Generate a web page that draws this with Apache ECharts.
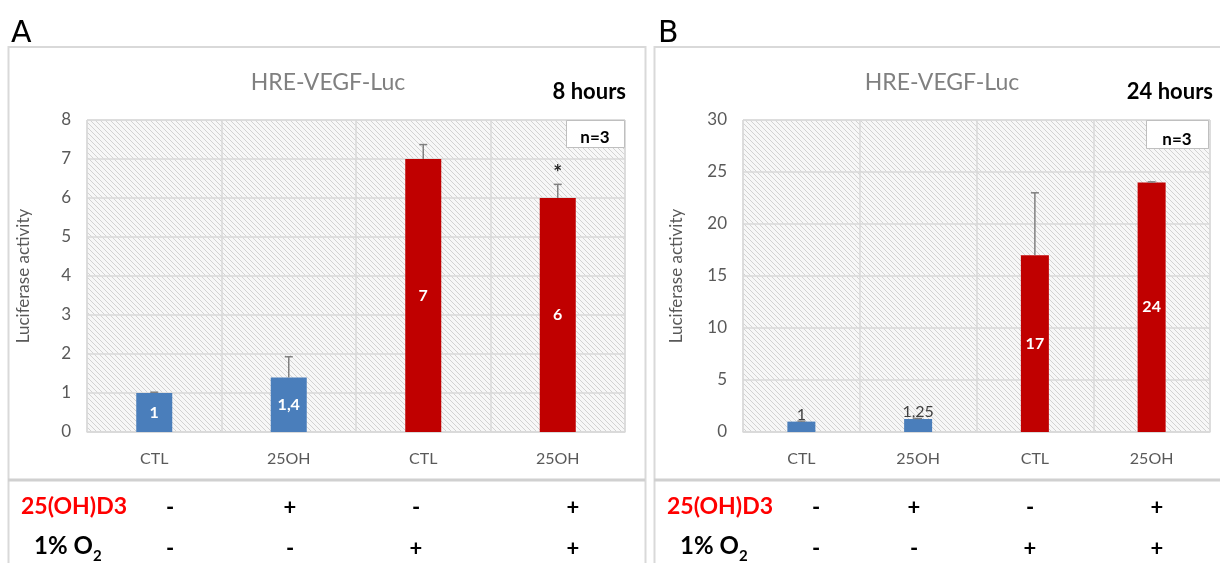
<!DOCTYPE html>
<html>
<head>
<meta charset="utf-8">
<script src="https://cdn.jsdelivr.net/npm/echarts@6/dist/echarts.min.js"></script>
<style>
html, body { margin: 0; padding: 0; background: #fff; }
#main { width: 1220px; height: 563px; }
</style>
</head>
<body>
<div id="main"></div>
<script>
// data
var categories = ['CTL', '25OH', 'CTL', '25OH'];
var valuesA = [1, 1.4, 7, 6];
var errorA = [0.02, 0.53, 0.37, 0.35];
var labelsA = ['1', '1,4', '7', '6'];
var starsA = ['', '', '', '*'];
var valuesB = [1, 1.25, 17, 24];
var errorB = [0.05, 0.05, 6, 0.05];
var labelsB = ['1', '1,25', '17', '24'];
var starsB = ['', '', '', ''];
var yTicksA = [0, 1, 2, 3, 4, 5, 6, 7, 8];
var yTicksB = [0, 5, 10, 15, 20, 25, 30];
var d3Row = ['-', '+', '-', '+'];
var o2Row = ['-', '-', '+', '+'];
var barColors = ['#4a7ebb', '#4a7ebb', '#c00000', '#c00000'];

var FONT = 'Lato, "Open Sans", sans-serif';
var GRAY = '#595959';

// diagonal hatch used as plot background
function hatch() {
  var c = document.createElement('canvas');
  c.width = 5; c.height = 5;
  var g = c.getContext('2d');
  g.fillStyle = '#f7f7f7';
  g.fillRect(0, 0, 5, 5);
  g.strokeStyle = '#d2d2d2';
  g.lineWidth = 1;
  g.beginPath();
  g.moveTo(-1, -1); g.lineTo(6, 6);
  g.moveTo(-6, -1); g.lineTo(1, 6);
  g.moveTo(4, -1); g.lineTo(11, 6);
  g.stroke();
  return c;
}
var pattern = { image: hatch(), repeat: 'repeat' };

function barData(vals, labels, small) {
  return vals.map(function (v, i) {
    var inside = !small[i];
    return {
      value: v,
      itemStyle: { color: barColors[i] },
      label: inside ? {
        show: true, position: 'inside', formatter: labels[i],
        color: '#fff', fontWeight: 'bold', fontSize: 16, fontFamily: FONT
      } : {
        show: true, position: 'top', distance: -1, formatter: labels[i],
        color: '#404040', fontSize: 16, fontFamily: FONT
      }
    };
  });
}

function errorSeries(idx, vals, errs, stars) {
  return {
    type: 'custom',
    xAxisIndex: idx, yAxisIndex: idx,
    data: vals.map(function (v, i) { return [i, v, v + errs[i]]; }),
    encode: { x: 0, y: [1, 2] },
    z: 5,
    renderItem: function (params, api) {
      var base = api.coord([api.value(0), api.value(1)]);
      var top = api.coord([api.value(0), api.value(2)]);
      var kids = [
        { type: 'line', shape: { x1: base[0], y1: base[1], x2: top[0], y2: top[1] },
          style: { stroke: '#808080', lineWidth: 1.5 } },
        { type: 'line', shape: { x1: top[0] - 4, y1: top[1], x2: top[0] + 4, y2: top[1] },
          style: { stroke: '#808080', lineWidth: 1.5 } }
      ];
      var s = stars[params.dataIndex];
      if (s) {
        kids.push({ type: 'text', style: { text: s, x: top[0], y: top[1] - 11,
          align: 'center', verticalAlign: 'middle', fill: '#222',
          font: 'bold 21px ' + FONT } });
      }
      return { type: 'group', children: kids };
    }
  };
}

function yAxis(idx, ticks, gap) {
  return {
    gridIndex: idx, type: 'value',
    min: ticks[0], max: ticks[ticks.length - 1], interval: ticks[1] - ticks[0],
    name: 'Luciferase activity', nameLocation: 'middle', nameRotate: 90, nameGap: gap,
    nameTextStyle: { color: GRAY, fontSize: 17, fontFamily: FONT },
    axisLine: { show: false }, axisTick: { show: false },
    axisLabel: { color: GRAY, fontSize: 17, fontFamily: FONT, margin: 16 },
    splitLine: { lineStyle: { color: '#d9d9d9', width: 1.5 } }
  };
}

function xAxis(idx) {
  return {
    gridIndex: idx, type: 'category', data: categories,
    axisLine: { lineStyle: { color: '#d9d9d9', width: 1.5 } },
    axisTick: { show: false },
    axisLabel: { color: GRAY, fontSize: 16, fontFamily: FONT, margin: 19 },
    splitLine: { show: true, interval: 0, lineStyle: { color: '#d9d9d9', width: 1.5 } }
  };
}

var gridStyle = { show: true, backgroundColor: pattern, borderColor: '#d9d9d9', borderWidth: 1 };

// table under each panel
var signX = [[170, 290, 416, 573], [816, 914, 1030, 1157]];
var tableGraphics = [];
[0, 1].forEach(function (p) {
  var ox = p === 0 ? 0 : 646;
  tableGraphics.push({ type: 'text', left: 21 + ox, top: 495,
    style: { text: '25(OH)D3', fill: '#ff0000', font: 'bold 23px ' + FONT } });
  tableGraphics.push({ type: 'text', left: 34 + ox, top: 534,
    style: { text: '1% O', fill: '#000', font: 'bold 24px ' + FONT } });
  tableGraphics.push({ type: 'text', left: 93 + ox, top: 549,
    style: { text: '2', fill: '#000', font: 'bold 15px ' + FONT } });
  for (var i = 0; i < 4; i++) {
    tableGraphics.push({ type: 'text', x: signX[p][i], y: 508,
      style: { text: d3Row[i], fill: '#000', font: 'bold 22px ' + FONT, align: 'center', verticalAlign: 'middle' } });
    tableGraphics.push({ type: 'text', x: signX[p][i], y: 549,
      style: { text: o2Row[i], fill: '#000', font: 'bold 22px ' + FONT, align: 'center', verticalAlign: 'middle' } });
  }
});

var chart = echarts.init(document.getElementById('main'));
chart.setOption({
  backgroundColor: '#fff',
  animation: false,
  title: [
    { text: 'HRE-VEGF-Luc', left: 323, top: 66, textAlign: 'center',
      textStyle: { color: '#808080', fontSize: 23, fontWeight: 'normal', fontFamily: FONT } },
    { text: 'HRE-VEGF-Luc', left: 937, top: 66, textAlign: 'center',
      textStyle: { color: '#808080', fontSize: 23, fontWeight: 'normal', fontFamily: FONT } }
  ],
  grid: [
    Object.assign({ left: 87, top: 120, width: 538, height: 312 }, gridStyle),
    Object.assign({ left: 743, top: 120, width: 467, height: 312 }, gridStyle)
  ],
  xAxis: [xAxis(0), xAxis(1)],
  yAxis: [yAxis(0, yTicksA, 55), yAxis(1, yTicksB, 58)],
  series: [
    { type: 'bar', xAxisIndex: 0, yAxisIndex: 0, barWidth: 36,
      data: barData(valuesA, labelsA, [false, false, false, false]) },
    { type: 'bar', xAxisIndex: 1, yAxisIndex: 1, barWidth: 28,
      data: barData(valuesB, labelsB, [true, true, false, false]) },
    errorSeries(0, valuesA, errorA, starsA),
    errorSeries(1, valuesB, errorB, starsB)
  ],
  graphic: [
    // panel frames
    { type: 'rect', shape: { x: 8.5, y: 47, width: 637, height: 530 },
      style: { fill: 'none', stroke: '#d9d9d9', lineWidth: 2 }, z: -1 },
    { type: 'rect', shape: { x: 654.5, y: 47, width: 580, height: 530 },
      style: { fill: 'none', stroke: '#d9d9d9', lineWidth: 2 }, z: -1 },
    // separators between chart and table
    { type: 'line', shape: { x1: 8, y1: 480, x2: 645, y2: 480 },
      style: { stroke: '#d0d0d0', lineWidth: 3 } },
    { type: 'line', shape: { x1: 654, y1: 480, x2: 1220, y2: 480 },
      style: { stroke: '#d0d0d0', lineWidth: 3 } },
    // panel letters
    { type: 'text', left: 11, top: 19, style: { text: 'A', fill: '#000', font: '30px "DejaVu Sans"' } },
    { type: 'text', left: 658, top: 19, style: { text: 'B', fill: '#000', font: '30px "DejaVu Sans"' } },
    // time labels
    { type: 'text', x: 626, y: 92, style: { text: '8 hours', fill: '#000', font: 'bold 22px ' + FONT, align: 'right', verticalAlign: 'middle' } },
    { type: 'text', x: 1213, y: 92, style: { text: '24 hours', fill: '#000', font: 'bold 22px ' + FONT, align: 'right', verticalAlign: 'middle' } },
    // n=3 boxes
    { type: 'rect', shape: { x: 566.5, y: 120.5, width: 58, height: 27 },
      style: { fill: '#fff', stroke: '#bfbfbf', lineWidth: 1 }, z: 10 },
    { type: 'text', x: 595, y: 138, z: 11, style: { text: 'n=3', fill: '#000', font: 'bold 17px ' + FONT, align: 'center', verticalAlign: 'middle' } },
    { type: 'rect', shape: { x: 1146.5, y: 120.5, width: 62, height: 28 },
      style: { fill: '#fff', stroke: '#bfbfbf', lineWidth: 1 }, z: 10 },
    { type: 'text', x: 1177, y: 140, z: 11, style: { text: 'n=3', fill: '#000', font: 'bold 17px ' + FONT, align: 'center', verticalAlign: 'middle' } }
  ].concat(tableGraphics)
});
</script>
</body>
</html>
